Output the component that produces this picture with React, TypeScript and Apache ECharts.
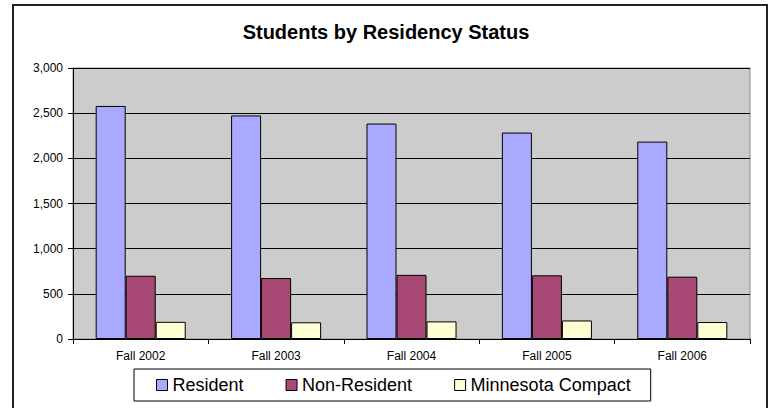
import React, { useEffect, useRef } from "react";
import * as echarts from "echarts";

const categories = ["Fall 2002", "Fall 2003", "Fall 2004", "Fall 2005", "Fall 2006"];
const resident = [2580, 2475, 2385, 2285, 2185];
const nonResident = [700, 675, 710, 705, 690];
const minnesotaCompact = [190, 185, 195, 205, 188];
const seriesNames = ["Resident", "Non-Resident", "Minnesota Compact"];
const seriesColors = ["#a9a9ff", "#a84874", "#ffffd4"];

const FONT = "'Liberation Sans', Arial, sans-serif";

export default function App() {
  const ref = useRef<HTMLDivElement>(null);
  useEffect(() => {
    if (!ref.current) return;
    const chart = echarts.init(ref.current, null, { renderer: "svg" });
    const data = [resident, nonResident, minnesotaCompact];
    chart.setOption({
      animation: false,
      backgroundColor: "#ffffff",
      textStyle: { fontFamily: FONT },
      title: {
        text: "Students by Residency Status",
        left: "center",
        top: 22,
        padding: 0,
        textStyle: { fontFamily: FONT, fontSize: 20, fontWeight: "bold", color: "#000" },
      },
      graphic: [
        {
          type: "rect",
          shape: { x: 13, y: 5, width: 754, height: 430 },
          style: { fill: "none", stroke: "#222", lineWidth: 2 },
          silent: true,
        },
      ],
      legend: {
        left: 134,
        top: 369,
        orient: "horizontal",
        padding: [7, 20, 7, 22],
        itemGap: 42,
        itemWidth: 11,
        itemHeight: 11,
        borderColor: "#000",
        borderWidth: 1,
        icon: "rect",
        itemStyle: { borderColor: "#000", borderWidth: 1 },
        textStyle: { fontFamily: FONT, fontSize: 18, color: "#000" },
        data: seriesNames,
      },
      grid: {
        left: 73,
        right: 22,
        top: 68,
        bottom: 69,
        show: true,
        backgroundColor: "#cccccc",
        borderColor: "#888888",
        borderWidth: 1,
        containLabel: false,
      },
      xAxis: {
        type: "category",
        data: categories,
        axisLine: { lineStyle: { color: "#000", width: 1 } },
        axisTick: { show: true, length: 5, lineStyle: { color: "#000" } },
        axisLabel: { fontFamily: FONT, fontSize: 12, color: "#000", margin: 11 },
      },
      yAxis: {
        type: "value",
        min: 0,
        max: 3000,
        interval: 500,
        axisLine: { show: true, lineStyle: { color: "#000", width: 1 } },
        axisTick: { show: true, length: 5, lineStyle: { color: "#000" } },
        axisLabel: {
          fontFamily: FONT,
          fontSize: 12,
          color: "#000",
          margin: 10,
          formatter: (v: number) => v.toLocaleString("en-US"),
        },
        splitLine: { show: true, lineStyle: { color: "#000", width: 1 } },
      },
      series: seriesNames.map((name, i) => ({
        name,
        type: "bar",
        data: data[i],
        barGap: "0%",
        barCategoryGap: "33.5%",
        itemStyle: { color: seriesColors[i], borderColor: "#000", borderWidth: 1 },
      })),
    });
    return () => chart.dispose();
  }, []);
  return (
    <div
      ref={ref}
      style={{ position: "fixed", left: 0, top: 0, width: 772, height: 408 }}
    />
  );
}
